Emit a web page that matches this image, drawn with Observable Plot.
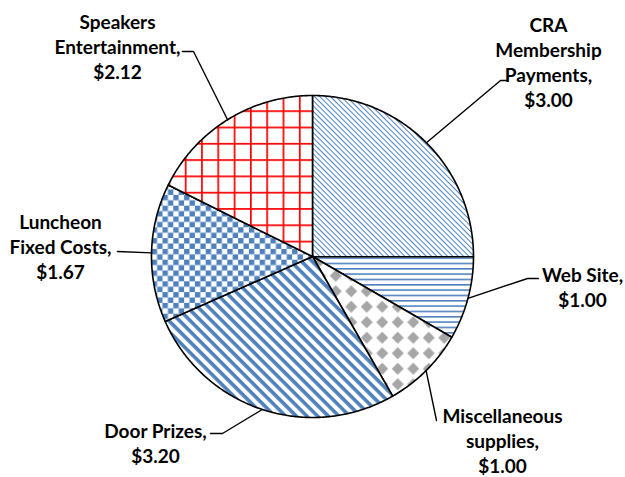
<!DOCTYPE html>
<html><head><meta charset="utf-8">
<script src="https://cdn.jsdelivr.net/npm/d3@7"></script>
<script src="https://cdn.jsdelivr.net/npm/@observablehq/plot@0.6"></script>
<style>body{margin:0;background:#fff}</style>
</head><body><div id="chart"></div>
<script>
// ---- data ----
const categories = ["CRA Membership Payments", "Web Site", "Miscellaneous supplies", "Door Prizes", "Luncheon Fixed Costs", "Speakers Entertainment"];
const values = [3.00, 1.00, 1.00, 3.20, 1.67, 2.12];
const labelTexts = ["CRA\nMembership\nPayments,\n$3.00", "Web Site,\n$1.00", "Miscellaneous\nsupplies,\n$1.00", "Door Prizes,\n$3.20", "Luncheon\nFixed Costs,\n$1.67", "Speakers\nEntertainment,\n$2.12"];
const patternIds = ["pCRA", "pWeb", "pMisc", "pDoor", "pLunch", "pSpk"];

// ---- layout ----
const W = 625, H = 477, CX = 312, CY = 256, R = 161;
const labelPos = [[548, 60.5], [582, 285.5], [502, 439.5], [155, 442], [60, 245], [117, 45]];
const leaderBends = [[[500, 80], [507, 80]], [[527, 278], [538, 278]], [[436, 420]], [[222, 433], [210, 433]], [[117, 251]], [[193, 51], [182, 51]]];
const px = (p) => ({x: p[0] - CX, y: CY - p[1]});

const arcs = d3.pie().sort(null).startAngle(0).endAngle(2 * Math.PI)(values);

const slicePts = [];
arcs.forEach((p, i) => {
  const fill = `url(#${patternIds[i]})`;
  const n = Math.max(2, Math.ceil((p.endAngle - p.startAngle) / (Math.PI / 360)));
  slicePts.push({k: i, x: 0, y: 0, fill});
  for (let j = 0; j <= n; j++) {
    const a = p.startAngle + (p.endAngle - p.startAngle) * j / n;
    slicePts.push({k: i, x: R * Math.sin(a), y: R * Math.cos(a), fill});
  }
  slicePts.push({k: i, x: 0, y: 0, fill});
});

const leaderPts = [];
arcs.forEach((p, i) => {
  const a = (p.startAngle + p.endAngle) / 2;
  leaderPts.push({k: i, x: R * Math.sin(a), y: R * Math.cos(a)});
  leaderBends[i].forEach(b => leaderPts.push({k: i, ...px(b)}));
});

const labels = labelTexts.map((t, i) => ({text: t, ...px(labelPos[i])}));

const svg = Plot.plot({
  width: W, height: H, margin: 0,
  style: {background: "#fff"},
  x: {domain: [-CX, W - CX], range: [0, W], axis: null},
  y: {domain: [CY - H, CY], range: [H, 0], axis: null},
  color: {type: "identity"},
  marks: [
    Plot.line(slicePts, {x: "x", y: "y", z: "k", fill: "fill", stroke: "black", strokeWidth: 1.6, strokeLinejoin: "round", curve: "linear"}),
    Plot.line(leaderPts, {x: "x", y: "y", z: "k", stroke: "black", strokeWidth: 1.4, curve: "linear"}),
    Plot.text(labels, {x: "x", y: "y", text: "text", fontSize: 19, fontWeight: 700, fontFamily: "Lato", lineHeight: 25 / 19, textAnchor: "middle", lineAnchor: "middle", fill: "black"})
  ]
});

const ns = "http://www.w3.org/2000/svg";
const defs = document.createElementNS(ns, "defs");
const B = "#4F81BD";
defs.innerHTML = `
<pattern id="pCRA" patternUnits="userSpaceOnUse" width="8" height="3.77" patternTransform="rotate(45)"><rect width="8" height="3.77" fill="#fff"/><rect width="8" height="1.0" fill="${B}"/></pattern>
<pattern id="pWeb" patternUnits="userSpaceOnUse" y="1" width="8" height="5.33"><rect width="8" height="5.33" fill="#fff"/><rect width="8" height="1.6" fill="${B}"/></pattern>
<pattern id="pMisc" patternUnits="userSpaceOnUse" x="2" y="4" width="15.5" height="15.5"><rect width="15.5" height="15.5" fill="#fff"/><path d="M7.75,1.75L13.75,7.75L7.75,13.75L1.75,7.75Z" fill="#A6A6A6"/></pattern>
<pattern id="pDoor" patternUnits="userSpaceOnUse" width="8" height="7.54" patternTransform="rotate(45)"><rect width="8" height="7.54" fill="#fff"/><rect width="8" height="3.6" fill="${B}"/></pattern>
<pattern id="pLunch" patternUnits="userSpaceOnUse" width="10.8" height="10.8"><rect width="10.8" height="10.8" fill="#fff"/><rect width="5.4" height="5.4" fill="${B}"/><rect x="5.4" y="5.4" width="5.4" height="5.4" fill="${B}"/></pattern>
<pattern id="pSpk" patternUnits="userSpaceOnUse" x="5" y="12" width="16.3" height="16.3"><rect width="16.3" height="16.3" fill="#fff"/><rect width="1.7" height="16.3" fill="#FF0000"/><rect width="16.3" height="1.7" fill="#FF0000"/></pattern>`;
svg.insertBefore(defs, svg.firstChild);
document.getElementById("chart").appendChild(svg);
</script>
</body></html>
